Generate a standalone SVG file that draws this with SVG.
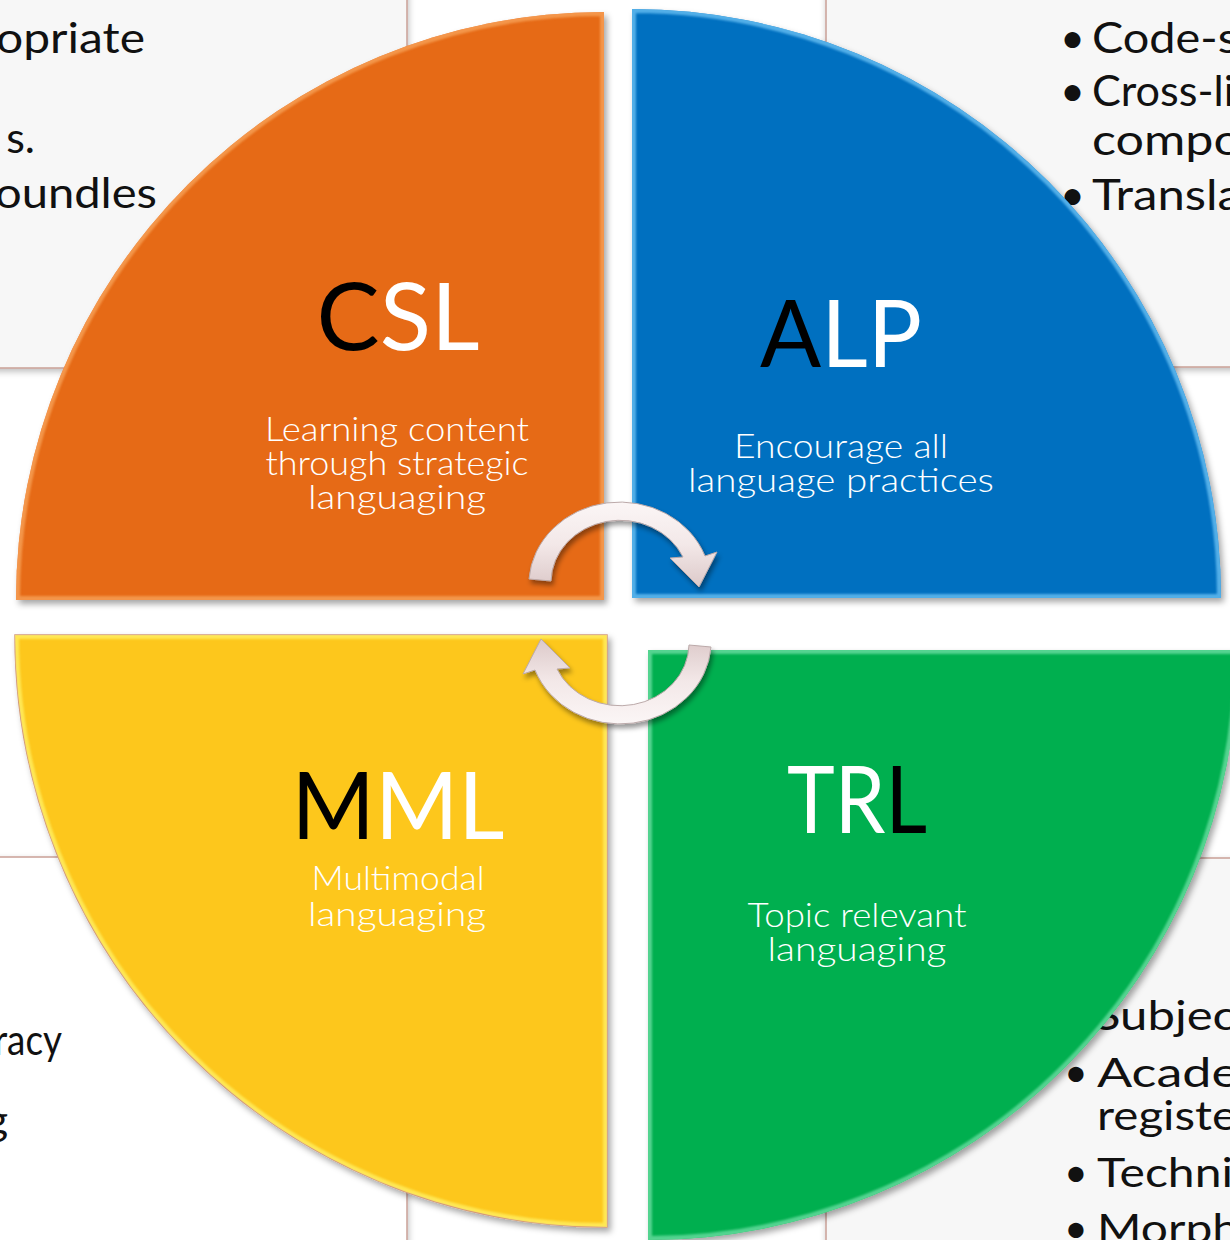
<svg xmlns="http://www.w3.org/2000/svg" xmlns:xlink="http://www.w3.org/1999/xlink" width="1230" height="1240" viewBox="0 0 1230 1240">
  <style>
    .bg-text { font-family: "Lato", "DejaVu Sans", "Liberation Sans", sans-serif; font-size: 43px; fill: #111; }
    .bg-text-sm { font-family: "Lato", "DejaVu Sans", "Liberation Sans", sans-serif; font-size: 41px; fill: #111; }
    .title { font-family: "Lato", "Liberation Sans", sans-serif; font-weight: 400; font-size: 94px; }
    .desc { font-family: "Lato", "Liberation Sans", sans-serif; font-weight: 300; font-size: 33px; fill: #ffffff; text-anchor: middle; }
    .panel-gray { fill: #f7f7f7; stroke: #c9a096; stroke-width: 1.5; }
    .panel-white { fill: #ffffff; stroke: #c9a096; stroke-width: 1.5; }
    .bevel { fill: none; stroke-width: 8; opacity: 0.75; }
    .arrow { fill: url(#arrowFill); stroke: #bba9a9; stroke-width: 1; }
  </style>
  <defs>
    <filter id="shadow" x="-10%" y="-10%" width="125%" height="125%">
      <feDropShadow dx="3" dy="4" stdDeviation="3" flood-color="#000" flood-opacity="0.35"/>
    </filter>
    <filter id="panelShadow" x="-10%" y="-10%" width="125%" height="125%">
      <feDropShadow dx="1" dy="3" stdDeviation="3" flood-color="#000" flood-opacity="0.25"/>
    </filter>
    <filter id="arrowShadow" x="-20%" y="-20%" width="150%" height="150%">
      <feDropShadow dx="2" dy="4" stdDeviation="2.5" flood-color="#000" flood-opacity="0.4"/>
    </filter>
    <filter id="soft" x="-5%" y="-5%" width="110%" height="110%">
      <feGaussianBlur stdDeviation="1.2"/>
    </filter>
    <linearGradient id="arrowFill" x1="0" y1="0" x2="0" y2="1">
      <stop offset="0" stop-color="#fbf6f6"/>
      <stop offset="0.5" stop-color="#f3e8e8"/>
      <stop offset="1" stop-color="#dcc9c9"/>
    </linearGradient>
    <path id="shape-csl" d="M604,600 L16,600 A588,588 0 0 1 604,12 Z"/>
    <path id="shape-alp" d="M632,598 L632,9 A589,589 0 0 1 1221,598 Z"/>
    <path id="shape-mml" d="M607,635 L607,1227 A592,592 0 0 1 15,635 Z"/>
    <path id="shape-trl" d="M648,650 L1238,650 A590,590 0 0 1 648,1240 Z"/>
    <clipPath id="clip-csl"><use xlink:href="#shape-csl"/></clipPath>
    <clipPath id="clip-alp"><use xlink:href="#shape-alp"/></clipPath>
    <clipPath id="clip-mml"><use xlink:href="#shape-mml"/></clipPath>
    <clipPath id="clip-trl"><use xlink:href="#shape-trl"/></clipPath>
    <!-- curved cycle arrow: tail at the left, head pointing down on the right -->
    <path id="cycle-arrow" d="M529,579 A91,83 0 0 1 705,556 L717,552 L699,587 L670,558 L683,557 A69,62 0 0 0 551,581 Z"/>
  </defs>

  <!-- page -->
  <rect x="0" y="0" width="1230" height="1240" fill="#ffffff"/>

  <!-- text panels behind the cycle -->
  <g id="panels">
    <rect class="panel-gray" x="-10" y="-10" width="417" height="378" filter="url(#panelShadow)"/>
    <rect class="panel-gray" x="826" y="-10" width="420" height="377" filter="url(#panelShadow)"/>
    <rect class="panel-white" x="-10" y="857" width="417" height="400" filter="url(#panelShadow)"/>
    <rect class="panel-gray" x="826" y="858" width="420" height="400" filter="url(#panelShadow)"/>

    <text class="bg-text" x="145" y="53" text-anchor="end" textLength="149" lengthAdjust="spacingAndGlyphs">opriate</text>
    <text class="bg-text" x="35" y="153" text-anchor="end">s.</text>
    <text class="bg-text" x="157" y="208" text-anchor="end" textLength="162" lengthAdjust="spacingAndGlyphs">oundles</text>

    <text class="bg-text" x="1060" y="53">•</text>
    <text class="bg-text" x="1092" y="53" textLength="146" lengthAdjust="spacingAndGlyphs">Code-s</text>
    <text class="bg-text" x="1060" y="106">•</text>
    <text class="bg-text" x="1092" y="106" textLength="142" lengthAdjust="spacingAndGlyphs">Cross-li</text>
    <text class="bg-text" x="1092" y="155" textLength="150" lengthAdjust="spacingAndGlyphs">compo</text>
    <text class="bg-text" x="1060" y="210">•</text>
    <text class="bg-text" x="1092" y="210" textLength="150" lengthAdjust="spacingAndGlyphs">Transla</text>

    <text class="bg-text" x="62" y="1055" text-anchor="end" textLength="68" lengthAdjust="spacingAndGlyphs">racy</text>
    <text class="bg-text" x="8" y="1135" text-anchor="end">g</text>

    <text class="bg-text-sm" x="1094" y="1030" textLength="142" lengthAdjust="spacingAndGlyphs">Subjec</text>
    <text class="bg-text-sm" x="1064" y="1087">•</text>
    <text class="bg-text-sm" x="1097" y="1087" textLength="142" lengthAdjust="spacingAndGlyphs">Acade</text>
    <text class="bg-text-sm" x="1097" y="1130" textLength="140" lengthAdjust="spacingAndGlyphs">registe</text>
    <text class="bg-text-sm" x="1064" y="1187">•</text>
    <text class="bg-text-sm" x="1097" y="1187" textLength="136" lengthAdjust="spacingAndGlyphs">Techni</text>
    <text class="bg-text-sm" x="1064" y="1243">•</text>
    <text class="bg-text-sm" x="1097" y="1243" textLength="142" lengthAdjust="spacingAndGlyphs">Morph</text>
  </g>

  <!-- CSL quadrant -->
  <g id="csl">
    <use xlink:href="#shape-csl" fill="#E66A16" filter="url(#shadow)"/>
    <use xlink:href="#shape-csl" class="bevel" stroke="#F8A55C" clip-path="url(#clip-csl)" filter="url(#soft)"/>
    <text class="title" x="398" y="350" text-anchor="middle" textLength="163" lengthAdjust="spacingAndGlyphs"><tspan fill="#000000">C</tspan><tspan fill="#ffffff">SL</tspan></text>
    <text class="desc" x="397" y="441" textLength="264" lengthAdjust="spacingAndGlyphs">Learning content</text>
    <text class="desc" x="397" y="475" textLength="263" lengthAdjust="spacingAndGlyphs">through strategic</text>
    <text class="desc" x="397" y="509" textLength="178" lengthAdjust="spacingAndGlyphs">languaging</text>
  </g>

  <!-- ALP quadrant -->
  <g id="alp">
    <use xlink:href="#shape-alp" fill="#0070C0" filter="url(#shadow)"/>
    <use xlink:href="#shape-alp" class="bevel" stroke="#6EC4F6" clip-path="url(#clip-alp)" filter="url(#soft)"/>
    <text class="title" x="841" y="367" text-anchor="middle" textLength="162" lengthAdjust="spacingAndGlyphs"><tspan fill="#000000">A</tspan><tspan fill="#ffffff">LP</tspan></text>
    <text class="desc" x="841" y="458" textLength="214" lengthAdjust="spacingAndGlyphs">Encourage all</text>
    <text class="desc" x="841" y="492" textLength="306" lengthAdjust="spacingAndGlyphs">language practices</text>
  </g>

  <!-- MML quadrant -->
  <g id="mml">
    <use xlink:href="#shape-mml" fill="#FDC71F" filter="url(#shadow)" stroke="#d49a78" stroke-width="1.5"/>
    <use xlink:href="#shape-mml" class="bevel" stroke="#FFF266" clip-path="url(#clip-mml)" filter="url(#soft)"/>
    <text class="title" x="398" y="839" text-anchor="middle" textLength="213" lengthAdjust="spacingAndGlyphs"><tspan fill="#000000">M</tspan><tspan fill="#ffffff">ML</tspan></text>
    <text class="desc" x="398" y="890" textLength="173" lengthAdjust="spacingAndGlyphs">Multimodal</text>
    <text class="desc" x="397" y="926" textLength="178" lengthAdjust="spacingAndGlyphs">languaging</text>
  </g>

  <!-- TRL quadrant -->
  <g id="trl">
    <use xlink:href="#shape-trl" fill="#00AF50" filter="url(#shadow)"/>
    <use xlink:href="#shape-trl" class="bevel" stroke="#6FE0A6" clip-path="url(#clip-trl)" filter="url(#soft)"/>
    <text class="title" x="857" y="833" text-anchor="middle" textLength="140" lengthAdjust="spacingAndGlyphs"><tspan fill="#ffffff">TR</tspan><tspan fill="#000000">L</tspan></text>
    <text class="desc" x="857" y="927" textLength="219" lengthAdjust="spacingAndGlyphs">Topic relevant</text>
    <text class="desc" x="857" y="961" textLength="179" lengthAdjust="spacingAndGlyphs">languaging</text>
  </g>

  <!-- cycle connectors -->
  <g id="connectors">
    <g filter="url(#arrowShadow)">
      <use xlink:href="#cycle-arrow" class="arrow"/>
    </g>
    <g filter="url(#arrowShadow)">
      <use xlink:href="#cycle-arrow" class="arrow" transform="rotate(180 620 613)"/>
    </g>
  </g>
</svg>
